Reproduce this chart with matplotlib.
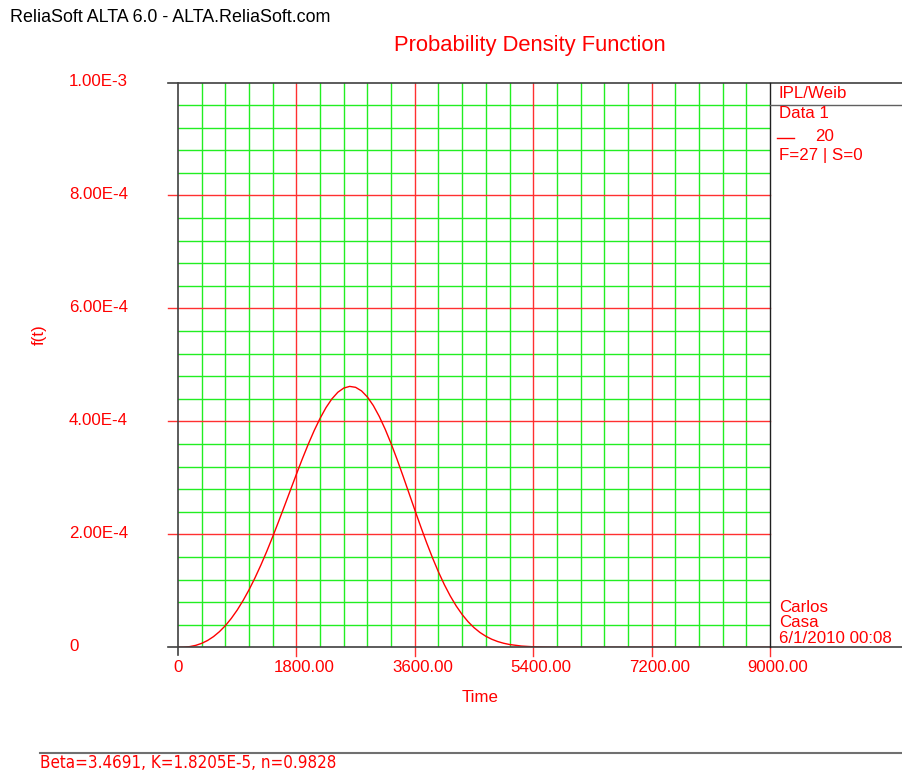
#!/usr/bin/env python3
import matplotlib

matplotlib.use("Agg")
import matplotlib.pyplot as plt
import numpy as np
from matplotlib.lines import Line2D
from matplotlib.transforms import offset_copy

# PDF curve sampled along the time axis
time_pts = [0, 90, 180, 270, 360, 450, 540, 630, 720, 810, 900, 990, 1080,
            1170, 1260, 1350, 1440, 1530, 1620, 1710, 1800, 1890, 1980, 2070,
            2160, 2250, 2340, 2430, 2520, 2610, 2700, 2790, 2880, 2970, 3060,
            3150, 3240, 3330, 3420, 3510, 3600, 3690, 3780, 3870, 3960, 4050,
            4140, 4230, 4320, 4410, 4500, 4590, 4680, 4770, 4860, 4950, 5040,
            5220, 5400, 5580, 5760, 6300, 7200, 8100, 9000]
pdf_pts = [0.0, 2.3e-7, 1.26e-6, 3.43e-6, 6.99e-6, 1.210e-5, 1.894e-5,
           2.768e-5, 3.835e-5, 5.111e-5, 6.591e-5, 8.290e-5, 1.0186e-4,
           1.2286e-4, 1.4561e-4, 1.7003e-4, 1.9595e-4, 2.2293e-4, 2.5060e-4,
           2.7858e-4, 3.0643e-4, 3.3356e-4, 3.5948e-4, 3.8362e-4, 4.0541e-4,
           4.2440e-4, 4.3988e-4, 4.5156e-4, 4.5900e-4, 4.6195e-4, 4.6029e-4,
           4.5396e-4, 4.4310e-4, 4.2790e-4, 4.0868e-4, 3.8604e-4, 3.6054e-4,
           3.3288e-4, 3.0355e-4, 2.7344e-4, 2.4324e-4, 2.1363e-4, 1.8508e-4,
           1.5818e-4, 1.3332e-4, 1.1073e-4, 9.065e-5, 7.309e-5, 5.802e-5,
           4.531e-5, 3.483e-5, 2.630e-5, 1.953e-5, 1.425e-5, 1.020e-5,
           7.18e-6, 4.95e-6, 2.22e-6, 9.2e-7, 3.2e-7, 1.0e-7, 0.0, 0.0, 0.0,
           0.0]

x_major = [0, 1800, 3600, 5400, 7200, 9000]
x_labels = ["0", "1800.00", "3600.00", "5400.00", "7200.00", "9000.00"]
y_major = [0, 2e-4, 4e-4, 6e-4, 8e-4, 1e-3]
y_labels = ["0", "2.00E-4", "4.00E-4", "6.00E-4", "8.00E-4", "1.00E-3"]

legend_lines = ["IPL/Weib", "Data 1"]
legend_stress = "20"
legend_counts = "F=27 | S=0"
footer_lines = ["Carlos", "Casa", "6/1/2010 00:08"]
params_text = "Beta=3.4691, K=1.8205E-5, n=0.9828"

W, H = 903, 773
RED = "#ff0000"
GRID_RED = "#ff3030"
GREEN = "#22ee22"
FRAME = "#404040"
FS = 12.2

plt.rcParams["font.family"] = ["Liberation Sans", "DejaVu Sans"]

fig = plt.figure(figsize=(W / 100, H / 100), dpi=100)
fig.patch.set_facecolor("white")


def fx(px):
    return px / W


def fy(py):
    return 1 - py / H


def px_line(x0, y0, x1, y1, color=FRAME, lw=1.2):
    fig.add_artist(Line2D([fx(x0), fx(x1)], [fy(y0), fy(y1)],
                          transform=fig.transFigure, color=color, lw=lw))


def px_text(x, y, s, **kw):
    kw.setdefault("color", RED)
    kw.setdefault("fontsize", FS)
    kw.setdefault("va", "center")
    return fig.text(fx(x), fy(y), s, **kw)


# plot area: t=0 at x=178, t=9000 at x=770; f=0 at y=647.3, f=1e-3 at y=82.5
ax_l, ax_r, ax_t, ax_b = 178, 770, 82.5, 647.3
ax = fig.add_axes([fx(ax_l), fy(ax_b), fx(ax_r - ax_l), (ax_b - ax_t) / H])
ax.set_xlim(0, 9000)
ax.set_ylim(0, 1e-3)
ax.axis("off")

# grid: green minor lines, red major lines with ticks sticking out
for t in np.arange(360, 9000, 360):
    if t % 1800:
        ax.axvline(t, color=GREEN, lw=1.0, zorder=1)
for v in np.arange(1, 25) * 4e-5:
    if round(v / 4e-5) % 5:
        ax.axhline(v, color=GREEN, lw=1.0, zorder=1)
for t in x_major[1:-1]:
    ax.axvline(t, ymin=-0.015, ymax=1, color=GRID_RED, lw=1.0, zorder=2, clip_on=False)
ax.axvline(x_major[-1], ymin=-0.015, ymax=0, color=GRID_RED, lw=1.0, clip_on=False)
for v in y_major[1:-1]:
    ax.axhline(v, xmin=-0.017, xmax=1, color=GRID_RED, lw=1.0, zorder=2, clip_on=False)

ax.plot(time_pts, pdf_pts, color=RED, lw=1.0, zorder=4)

# frame
px_line(168, ax_t, W, ax_t)
px_line(168, ax_b, W, ax_b)
px_line(ax_l, ax_t, ax_l, 655)
px_line(ax_r, ax_t, ax_r, ax_b, color="#202020", lw=1.0)
px_line(ax_r, 105.3, W, 105.3, color="#606060", lw=1.0)

# tick labels
for t, lab in zip(x_major, x_labels):
    dx = 0 if t == 0 else 8
    tr = offset_copy(ax.transData, fig=fig, x=dx, y=-(667 - ax_b), units="dots")
    ax.text(t, 0, lab, transform=tr, ha="center", va="center", color=RED,
            fontsize=FS, clip_on=False)
for v, lab in zip(y_major, y_labels):
    py = ax_b - v / 1e-3 * (ax_b - ax_t)
    px_text(69, py - 1, lab, ha="left")

px_text(480, 698, "Time", ha="center")
px_text(39, 335, "f(t)", ha="center", rotation=90)

# titles
px_text(10, 18, "ReliaSoft ALTA 6.0 - ALTA.ReliaSoft.com", color="black", ha="left", fontsize=12.9)
px_text(529.5, 46, "Probability Density Function", ha="center", fontsize=15.8)

# legend panel
px_text(779, 93.5, legend_lines[0], ha="left")
px_text(779, 113.5, legend_lines[1], ha="left")
px_line(777, 137.5, 794, 137.5, color=RED, lw=1.0)
px_text(815, 136.5, legend_stress, ha="left")
px_text(779, 155.5, legend_counts, ha="left")

for i, s in enumerate(footer_lines):
    px_text(779, 607 + i * 15.8, s, ha="left")

# parameter strip
px_line(40, 752.5, W, 752.5, color="#707070", lw=1.5)
px_text(40, 763.5, params_text, ha="left", fontsize=12.2,
        family="DejaVu Sans", fontstretch="condensed")

fig.savefig("out.png", dpi=100)
